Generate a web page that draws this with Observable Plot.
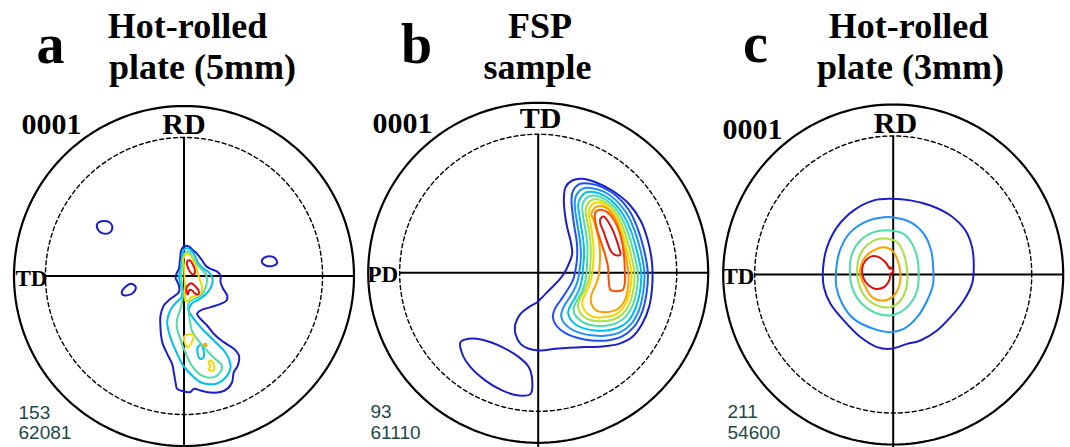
<!DOCTYPE html>
<html>
<head>
<meta charset="utf-8">
<script src="https://cdn.jsdelivr.net/npm/d3@7"></script>
<script src="https://cdn.jsdelivr.net/npm/@observablehq/plot@0.6"></script>
<style>
  html, body { margin: 0; padding: 0; background: #fff; }
  #chart svg { display: block; }
</style>
</head>
<body>
<div id="chart"></div>
<script>
// ---------------- DATA ----------------
const panelIds = ["a", "b", "c"];
const titleLine1 = ["Hot-rolled", "FSP", "Hot-rolled"];
const titleLine2 = ["plate (5mm)", "sample", "plate (3mm)"];
const poleLabel = ["0001", "0001", "0001"];
const topAxisLabel = ["RD", "TD", "RD"];
const leftAxisLabel = ["TD", "PD", "TD"];
const statMax = ["153", "93", "211"];
const statCount = ["62081", "61110", "54600"];

// Contour lines, in percent of the pole-figure radius (u right, v up)
// Panel a
const a_lv1_main = [[-1.7,15.0],[-0.1,17.4],[2.8,17.4],[4.8,15.6],[7.7,13.0],[10.7,9.1],[12.6,6.2],[15.6,4.2],[19.5,2.6],[21.5,0.3],[21.5,-3.6],[23.0,-7.5],[25.4,-11.5],[25.0,-14.4],[21.5,-16.4],[15.6,-18.3],[9.7,-20.3],[7.7,-22.3],[9.7,-25.2],[13.6,-29.1],[18.5,-35.0],[23.4,-38.9],[29.3,-42.8],[32.3,-46.8],[31.7,-52.6],[29.3,-56.6],[28.3,-62.5],[25.4,-66.4],[21.5,-68.2],[15.6,-68.6],[9.7,-67.3],[5.8,-66.4],[3.8,-68.2],[-0.1,-67.9],[-4.0,-66.4],[-5.0,-62.5],[-6.0,-56.6],[-7.0,-51.7],[-9.9,-45.8],[-12.8,-38.9],[-13.8,-31.1],[-13.8,-23.2],[-11.9,-17.4],[-7.9,-13.4],[-3.0,-9.5],[-3.0,-5.6],[-5.0,-0.7],[-4.0,2.2],[-3.0,4.2],[-2.5,8.1],[-2.1,12.1]];
const a_lv1_isle1 = [[-51.0,30.7],[-47.1,32.3],[-43.2,31.1],[-42.2,27.8],[-44.2,25.2],[-48.1,25.2],[-50.6,27.2]];
const a_lv1_isle2 = [[46.0,9.6],[49.0,11.5],[53.3,10.7],[54.8,7.6],[51.9,5.8],[48.0,6.2],[46.0,7.6]];
const a_lv1_isle3 = [[-36.3,-8.5],[-31.4,-4.6],[-28.5,-6.1],[-29.5,-9.5],[-33.4,-11.4],[-36.3,-10.8]];
const a_lv4 = [[-0.1,15.6],[2.3,16.3],[4.8,14.4],[6.8,11.1],[8.7,7.1],[11.7,4.2],[14.6,2.2],[16.6,-0.7],[16.6,-4.6],[15.0,-8.0],[12.5,-11.0],[8.5,-14.0],[5.0,-15.8],[3.6,-17.8],[2.8,-20.3],[5.8,-25.2],[9.7,-30.1],[14.6,-35.0],[19.5,-39.9],[23.4,-43.8],[26.4,-48.7],[27.4,-53.7],[25.4,-58.6],[22.5,-61.5],[18.5,-63.5],[13.6,-63.5],[9.7,-62.5],[5.8,-59.5],[1.9,-55.6],[-1.1,-51.7],[-4.0,-45.8],[-7.0,-38.9],[-8.9,-33.1],[-9.9,-27.2],[-8.9,-22.3],[-7.0,-18.4],[-4.4,-15.4],[-1.5,-12.5],[-1.0,-8.6],[-2.0,-4.6],[-3.0,-0.7],[-2.0,4.2],[-1.4,10.1],[-0.6,14.0]];
const a_lv5 = [[0.5,13.6],[2.8,14.4],[4.8,11.6],[7.2,7.7],[10.1,4.2],[12.7,1.3],[13.6,-1.7],[13.2,-5.0],[12.0,-8.5],[10.0,-11.8],[6.0,-13.5],[3.2,-15.2],[2.2,-18.0],[2.8,-21.3],[3.6,-27.2],[4.6,-32.1],[8.5,-38.0],[13.4,-43.8],[18.3,-48.7],[22.3,-52.7],[21.3,-56.6],[17.4,-59.5],[10.5,-58.6],[4.6,-52.7],[0.7,-44.8],[-2.2,-37.0],[-4.2,-30.1],[-4.0,-25.2],[-2.4,-20.3],[-1.1,-15.4],[-0.5,-10.5],[-1.1,-5.6],[-1.7,0.3],[-1.1,6.2],[-0.5,11.1]];
const a_lv7_upper = [[-0.3,10.1],[1.5,13.1],[3.8,12.1],[5.8,8.7],[7.4,5.2],[8.2,1.3],[9.3,-2.2],[10.5,-5.6],[10.5,-8.5],[9.0,-10.8],[6.5,-11.8],[4.2,-12.4],[2.5,-14.5],[0.9,-14.8],[0.6,-12.4],[0.6,-7.5],[0.4,-2.6],[0.2,2.3],[0.0,6.2]];
const a_lv7_low1 = [[0.3,-35.4],[5.6,-34.7],[5.0,-38.0],[2.3,-41.9],[0.7,-39.9]];
const a_lv7_low2 = [[14.4,-50.7],[16.0,-49.8],[17.9,-53.7],[17.4,-55.6],[14.4,-55.0],[15.4,-53.1]];
const a_lv8_dot = [[12.0,-40.0],[13.0,-40.0],[13.0,-41.0],[12.0,-41.0]];
const a_lv4_oval = [[8.1,-41.9],[10.1,-40.5],[11.5,-43.9],[11.5,-47.8],[9.5,-48.8],[8.1,-45.8]];
const a_lv10_upper = [[1.9,8.7],[3.5,9.1],[5.2,6.8],[6.4,3.6],[6.2,1.3],[4.6,1.3],[2.9,3.6],[1.9,6.2]];
const a_lv10_lower = [[2.3,-5.6],[4.2,-4.2],[6.8,-6.2],[8.7,-8.9],[8.2,-10.9],[6.2,-10.1],[4.2,-8.1],[2.9,-8.5],[2.3,-10.9],[1.5,-9.5],[1.5,-6.9]];

// Panel b
const b_lv1_main = [[16.1,50.4],[20.0,54.3],[25.9,55.3],[33.7,53.3],[43.5,48.4],[53.3,40.6],[60.2,30.8],[64.5,19.0],[67.0,5.3],[67.0,-8.5],[65.2,-20.2],[61.2,-30.0],[55.3,-37.8],[47.4,-41.8],[37.6,-43.3],[27.8,-43.7],[18.0,-44.1],[10.2,-44.7],[1.4,-45.7],[-5.5,-44.7],[-10.4,-41.8],[-13.4,-35.9],[-13.4,-30.0],[-10.4,-24.1],[-5.5,-20.2],[-0.6,-17.3],[4.3,-12.4],[8.2,-8.5],[12.1,-4.5],[15.1,-0.6],[18.0,5.3],[20.0,11.2],[19.0,19.0],[17.0,26.9],[15.7,34.7],[15.1,42.5]];
const b_lv1_lobe = [[-45.7,-40.8],[-40.8,-38.8],[-32.9,-39.4],[-21.2,-43.7],[-11.4,-49.6],[-5.5,-55.5],[-3.5,-63.4],[-4.5,-71.2],[-11.4,-72.2],[-21.2,-69.2],[-31.0,-63.4],[-39.8,-55.5],[-44.7,-47.6]];
const b_lv2 = [[20.4,48.0],[23.9,52.0],[30.8,52.4],[38.6,50.0],[46.4,44.9],[53.3,37.1],[58.2,26.9],[62.1,14.1],[64.5,-0.2],[63.7,-12.3],[61.1,-23.1],[56.2,-32.0],[49.4,-37.4],[40.6,-39.8],[31.7,-39.8],[22.9,-38.2],[15.7,-35.3],[10.6,-31.0],[8.6,-26.1],[9.8,-21.2],[13.1,-16.3],[17.0,-10.4],[20.4,-4.5],[21.9,1.4],[22.9,9.2],[22.7,18.0],[21.3,26.9],[20.0,36.7],[19.6,43.5]];
const b_lv3 = [[22.3,45.5],[25.9,49.4],[31.7,49.8],[38.6,47.7],[45.5,42.9],[51.7,35.5],[56.4,25.7],[60.2,13.1],[62.5,-0.2],[61.7,-12.0],[59.2,-22.2],[54.7,-30.0],[48.4,-34.9],[40.6,-36.9],[32.7,-36.9],[24.9,-35.5],[19.0,-32.9],[15.1,-29.4],[13.5,-25.1],[14.7,-20.6],[17.6,-15.9],[20.9,-10.4],[23.3,-4.5],[24.3,1.4],[25.1,9.2],[24.7,18.0],[23.3,26.9],[21.9,35.7],[21.5,41.6]];
const b_lv4 = [[24.3,42.9],[27.8,47.1],[32.7,47.5],[39.0,45.3],[45.1,40.6],[50.4,33.5],[54.7,24.3],[58.2,12.2],[60.6,-0.2],[59.8,-11.6],[57.2,-21.0],[52.9,-28.4],[47.0,-32.3],[40.0,-33.9],[33.3,-33.9],[26.8,-32.7],[21.9,-30.4],[18.8,-27.1],[17.6,-23.1],[19.2,-18.8],[21.9,-14.3],[24.5,-8.8],[25.9,-2.9],[26.4,3.3],[27.0,10.2],[26.6,18.4],[25.3,26.9],[24.1,34.7],[23.5,39.6]];
const b_lv5 = [[26.2,40.6],[29.8,44.9],[34.1,45.3],[39.6,43.1],[44.9,38.6],[49.4,31.8],[53.1,22.9],[56.4,11.2],[58.6,-0.2],[57.8,-11.2],[55.3,-19.8],[51.3,-26.1],[45.9,-29.6],[39.6,-31.2],[33.7,-31.2],[28.2,-30.0],[24.3,-27.6],[21.5,-24.5],[20.9,-20.6],[22.7,-16.3],[25.5,-11.6],[27.4,-6.1],[28.4,-0.2],[28.8,7.3],[29.0,15.1],[28.2,22.9],[26.8,30.8],[26.0,36.7]];
const b_lv6 = [[28.2,38.6],[31.3,42.7],[35.3,43.1],[40.2,41.0],[44.7,36.7],[48.6,29.8],[51.7,21.4],[54.7,10.2],[56.6,-0.2],[55.9,-10.4],[53.5,-18.6],[49.8,-24.1],[44.7,-27.3],[38.8,-28.4],[33.7,-28.4],[29.2,-27.3],[25.9,-24.9],[23.9,-21.8],[23.5,-18.2],[25.1,-14.3],[27.4,-10.0],[29.4,-4.9],[30.4,0.4],[30.8,7.3],[30.9,15.1],[30.2,22.9],[28.8,30.4],[28.0,35.1]];
const b_lv7 = [[29.8,36.7],[32.7,40.8],[36.2,41.2],[40.6,39.0],[44.5,34.7],[47.8,28.2],[50.6,20.0],[53.1,9.6],[54.9,-0.2],[54.1,-10.0],[51.9,-17.4],[48.4,-22.5],[43.7,-25.3],[38.4,-26.1],[33.7,-26.1],[29.8,-24.7],[27.4,-22.2],[26.0,-19.2],[26.2,-15.9],[27.8,-12.3],[29.8,-8.0],[31.3,-2.9],[32.1,2.4],[32.5,8.8],[32.5,16.1],[31.7,23.3],[30.6,29.8],[29.8,33.7]];
const b_lv8 = [[31.3,34.7],[34.1,38.8],[37.6,39.2],[41.5,37.1],[44.9,32.7],[47.4,26.5],[49.8,18.0],[51.7,8.8],[53.1,-0.2],[52.7,-9.4],[50.9,-16.3],[47.8,-20.6],[43.5,-22.7],[38.6,-23.1],[34.3,-22.2],[31.7,-19.2],[30.9,-15.3],[32.1,-10.8],[34.3,-6.1],[35.7,-1.0],[36.2,4.9],[36.4,11.2],[35.7,19.0],[34.1,25.9],[32.5,31.2]];
const b_lv9 = [[33.7,35.7],[36.6,37.1],[40.6,35.7],[44.5,31.2],[47.8,23.9],[50.0,14.1],[50.9,3.3],[50.9,-6.5],[49.8,-10.0],[45.5,-10.8],[42.5,-10.0],[41.5,-4.5],[41.1,3.3],[39.2,11.2],[36.6,19.0],[34.3,26.9],[33.3,32.7]];
const b_lv10 = [[36.6,31.8],[38.6,33.1],[41.9,28.8],[45.1,22.0],[47.4,15.1],[48.4,10.8],[46.4,10.2],[43.1,12.2],[40.6,18.0],[38.2,24.9],[36.6,28.8]];

// Panel c
const c_lv1 = [[-11.4,43.6],[-1.6,44.5],[10.1,43.6],[21.9,40.6],[33.7,34.7],[42.5,25.9],[46.4,16.1],[47.4,4.3],[46.4,-5.5],[41.5,-15.3],[33.7,-25.1],[25.8,-32.9],[16.0,-38.8],[8.2,-40.8],[-1.6,-43.7],[-9.5,-42.7],[-19.3,-36.8],[-29.1,-27.0],[-36.9,-17.2],[-40.8,-7.4],[-41.2,4.3],[-38.9,16.1],[-33.0,27.9],[-23.2,37.7]];
const c_lv3 = [[-0.6,33.7],[10.1,30.8],[18.0,23.9],[22.3,14.1],[23.5,4.3],[23.5,-5.5],[20.0,-15.3],[14.1,-25.1],[6.2,-32.0],[-1.6,-33.9],[-11.4,-32.0],[-23.2,-26.1],[-30.0,-17.2],[-33.4,-7.4],[-33.4,4.3],[-31.0,15.1],[-25.1,24.9],[-15.3,31.4],[-5.5,33.7]];
const c_lv5 = [[-1.6,25.9],[6.2,23.9],[11.1,18.1],[14.1,10.2],[15.0,0.4],[14.1,-9.4],[10.1,-17.2],[4.3,-22.1],[-2.6,-24.1],[-11.4,-22.1],[-19.3,-16.3],[-24.2,-7.4],[-25.5,2.4],[-24.2,12.2],[-19.3,20.0],[-11.4,24.9]];
const c_lv6 = [[-3.6,21.0],[2.3,19.0],[6.2,12.2],[8.2,2.4],[7.8,-7.4],[4.3,-15.3],[-1.6,-19.2],[-9.5,-18.2],[-16.3,-13.3],[-20.2,-5.5],[-21.2,4.3],[-19.3,12.2],[-14.4,18.1],[-8.5,21.0]];
const c_lv8 = [[-5.5,16.1],[-0.6,14.1],[2.3,9.2],[4.3,0.4],[3.3,-7.4],[-0.6,-13.3],[-6.5,-15.3],[-12.4,-13.3],[-16.3,-7.4],[-19.5,0.4],[-17.8,8.3],[-12.4,13.7]];
const c_lv10 = [[-18.3,3.3],[-16.3,8.2],[-12.4,10.8],[-8.5,10.2],[-4.5,7.2],[-2.0,3.3],[-1.6,4.3],[-0.6,3.3],[0.0,1.3],[-1.6,0.4],[-2.0,-2.6],[-3.5,-5.5],[-5.5,-7.5],[-10.4,-8.5],[-14.3,-6.5],[-17.3,-2.6]];

const contourList = [
  {panel: "a", level: 1, pts: a_lv1_main}, {panel: "a", level: 1, pts: a_lv1_isle1},
  {panel: "a", level: 1, pts: a_lv1_isle2}, {panel: "a", level: 1, pts: a_lv1_isle3},
  {panel: "a", level: 4, pts: a_lv4}, {panel: "a", level: 4, pts: a_lv4_oval},
  {panel: "a", level: 5, pts: a_lv5},
  {panel: "a", level: 7, pts: a_lv7_upper}, {panel: "a", level: 7, pts: a_lv7_low1},
  {panel: "a", level: 7, pts: a_lv7_low2}, {panel: "a", level: 8, pts: a_lv8_dot},
  {panel: "a", level: 10, pts: a_lv10_upper}, {panel: "a", level: 10, pts: a_lv10_lower},
  {panel: "b", level: 1, pts: b_lv1_main}, {panel: "b", level: 1, pts: b_lv1_lobe},
  {panel: "b", level: 2, pts: b_lv2}, {panel: "b", level: 3, pts: b_lv3},
  {panel: "b", level: 4, pts: b_lv4}, {panel: "b", level: 5, pts: b_lv5},
  {panel: "b", level: 6, pts: b_lv6}, {panel: "b", level: 7, pts: b_lv7},
  {panel: "b", level: 8, pts: b_lv8}, {panel: "b", level: 9, pts: b_lv9},
  {panel: "b", level: 10, pts: b_lv10},
  {panel: "c", level: 1, pts: c_lv1}, {panel: "c", level: 3, pts: c_lv3},
  {panel: "c", level: 5, pts: c_lv5}, {panel: "c", level: 6, pts: c_lv6},
  {panel: "c", level: 8, pts: c_lv8}, {panel: "c", level: 10, pts: c_lv10}
];

// ---------------- LAYOUT / STYLE ----------------
const W = 1070, H = 447;
const R = 170;                 // pixels per pole-figure radius
const X0 = 183.5, Y0 = 274;    // reference point of the unit frame
const ux = px => (px - X0) / R;
const uy = py => (Y0 - py) / R;

const centers = {a: [183.5, 275.5], b: [537.7, 272.3], c: [892.7, 274]};
const pos = {
  letter: [[50, 62], [416, 62], [755, 61]],
  t1: [[187, 37], [539.5, 37], [908, 37]],
  t2: [[202, 78], [537, 78], [910, 78]],
  pole: [[21, 133], [372, 132], [722, 138]],
  top: [[183.5, 133], [540, 127], [895, 132]],
  left: [[15, 285], [367, 281], [722, 283]],
  n1: [[18, 418], [370, 417], [727, 417]],
  n2: [[18, 438], [370, 438], [727, 438]]
};
const levelColors = ["#1b1fc4", "#1f50f5", "#1e90ff", "#00bdf2", "#4fdca6", "#a8e046", "#f2d800", "#ffa000", "#ff5200", "#dd1111"];
const DASHED_R = 0.815;

const cu = p => ux(centers[p][0]);
const cv = p => uy(centers[p][1]);

const contourRows = contourList.flatMap((c, i) =>
  c.pts.map(([u, v]) => ({id: i, panel: c.panel, level: c.level, x: cu(c.panel) + u / 100, y: cv(c.panel) + v / 100}))
);

const circleRows = (radius) => panelIds.flatMap(p =>
  d3.range(0, 361, 2).map(a => ({panel: p, x: cu(p) + radius * Math.cos(a * Math.PI / 180), y: cv(p) + radius * Math.sin(a * Math.PI / 180)}))
);

const idx = panelIds.map((p, i) => i);
const serif = "'Liberation Serif', 'Times New Roman', serif";
const sans = "'Liberation Sans', Arial, sans-serif";

function label(key, texts, opts) {
  return Plot.text(idx, {
    x: i => ux(pos[key][i][0]), y: i => uy(pos[key][i][1]),
    text: i => texts[i], lineAnchor: "bottom", fill: "black", ...opts
  });
}

const chart = Plot.plot({
  width: W, height: H, margin: 0,
  x: {domain: [ux(0), ux(W)], axis: null},
  y: {domain: [uy(H), uy(0)], axis: null},
  color: {type: "ordinal", domain: d3.range(1, 11), range: levelColors},
  style: {background: "white", overflow: "visible"},
  marks: [
    Plot.line(circleRows(DASHED_R), {x: "x", y: "y", z: "panel", stroke: "black", strokeWidth: 1.4, strokeDasharray: "4,3"}),
    Plot.link(panelIds, {x1: p => cu(p) - DASHED_R, y1: p => cv(p), x2: p => cu(p) + 1, y2: p => cv(p), stroke: "black", strokeWidth: 2}),
    Plot.link(panelIds, {x1: p => cu(p), y1: p => cv(p) + DASHED_R, x2: p => cu(p), y2: p => cv(p) - 1.1, stroke: "black", strokeWidth: 2}),
    Plot.line(contourRows, {x: "x", y: "y", z: "id", stroke: "level", strokeWidth: 2, curve: "catmull-rom-closed"}),
    Plot.line(circleRows(1), {x: "x", y: "y", z: "panel", stroke: "black", strokeWidth: 2.2}),
    label("letter", panelIds, {fontSize: 56, fontWeight: "bold", fontFamily: serif, textAnchor: "middle"}),
    label("t1", titleLine1, {fontSize: 36, fontWeight: "bold", fontFamily: serif, textAnchor: "middle"}),
    label("t2", titleLine2, {fontSize: 36, fontWeight: "bold", fontFamily: serif, textAnchor: "middle"}),
    label("pole", poleLabel, {fontSize: 30, fontWeight: "bold", fontFamily: serif, textAnchor: "start"}),
    label("top", topAxisLabel, {fontSize: 30, fontWeight: "bold", fontFamily: serif, textAnchor: "middle"}),
    label("left", leftAxisLabel, {fontSize: 23, fontWeight: "bold", fontFamily: serif, textAnchor: "start"}),
    label("n1", statMax, {fontSize: 19, fontFamily: sans, textAnchor: "start", fill: "#1f4848"}),
    label("n2", statCount, {fontSize: 19, fontFamily: sans, textAnchor: "start", fill: "#1f4848"})
  ]
});
document.getElementById("chart").append(chart);
</script>
</body>
</html>
